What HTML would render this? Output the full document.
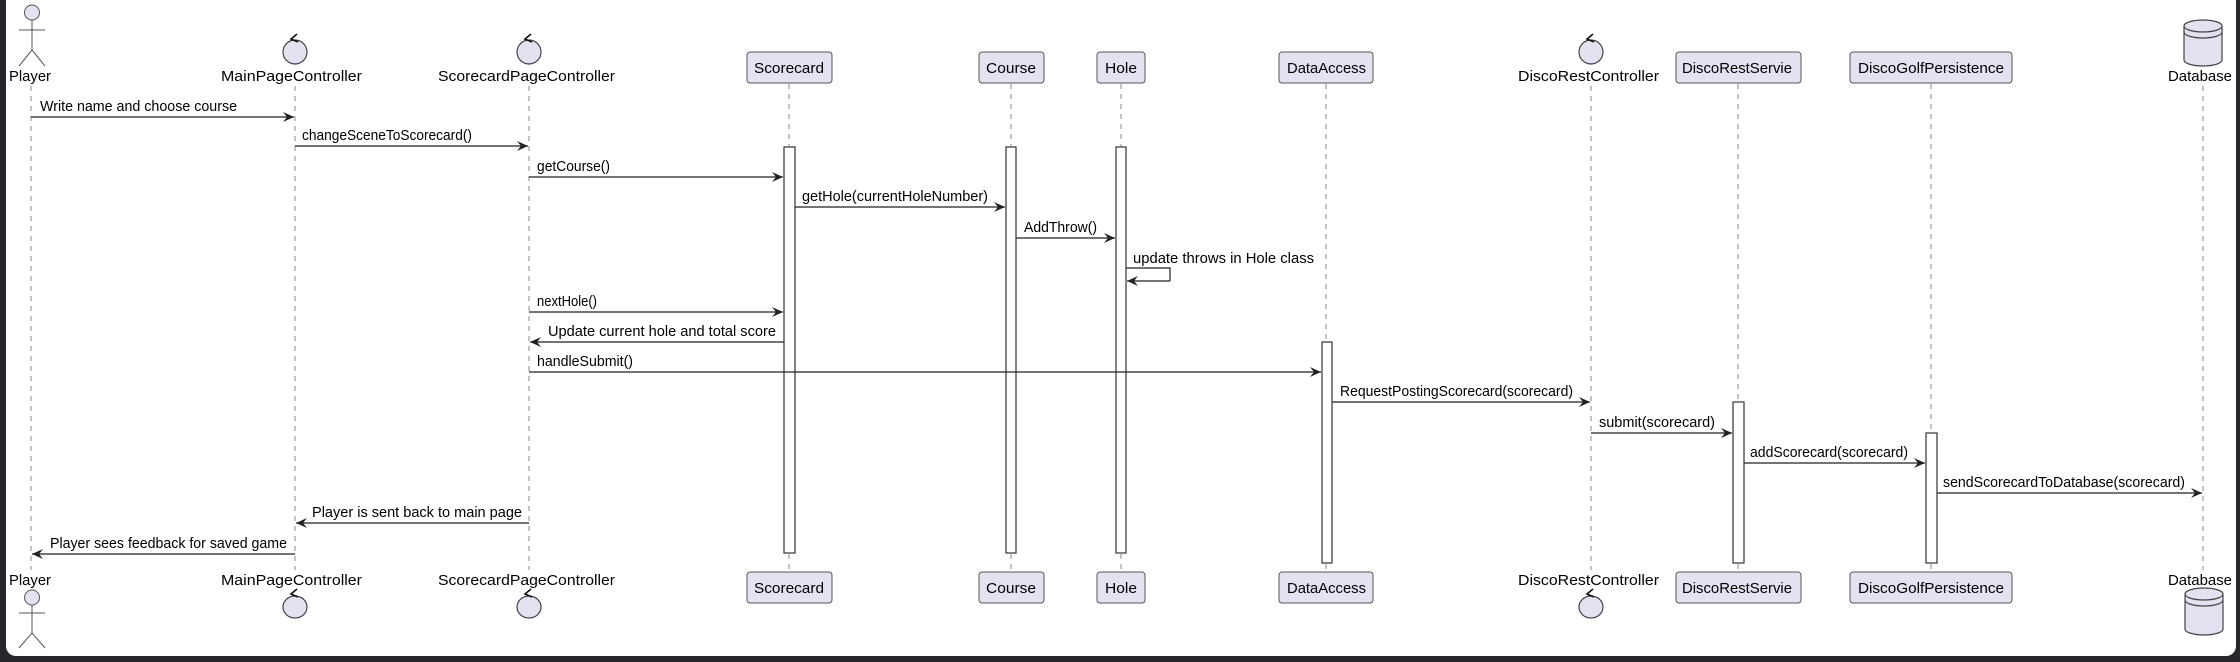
<!DOCTYPE html>
<html><head><meta charset="utf-8"><style>
html,body{margin:0;padding:0;background:#25272b;width:2240px;height:662px;overflow:hidden}
svg{display:block}
text{font-family:"Liberation Sans",Arial,sans-serif;font-size:15px;fill:#000}
.ll{stroke:#888;stroke-width:1;stroke-dasharray:5,5}
.box{fill:#e2e2f0;stroke:#555;stroke-width:1}
.act{fill:#fff;stroke:#333;stroke-width:1.2}
.m{stroke:#222;stroke-width:1.2;fill:none}
.ah{fill:#222}
.sh{fill:#e2e2f0;stroke:#444;stroke-width:1.2}
</style></head><body>
<svg width="2240" height="662" viewBox="0 0 2240 662" xmlns="http://www.w3.org/2000/svg">
<rect x="6" y="-12" width="2230" height="668" rx="10" fill="#fff"/>
<defs>
<marker id="a" markerWidth="12" markerHeight="10" refX="11" refY="5" orient="auto" markerUnits="userSpaceOnUse">
<path d="M0,0 L11,5 L0,10 L4,5 Z" class="ah"/></marker>
</defs>
<g class="ll">
<line x1="31" y1="86" x2="31" y2="570"/>
<line x1="295" y1="86" x2="295" y2="570"/>
<line x1="529" y1="86" x2="529" y2="570"/>
<line x1="789" y1="84" x2="789" y2="571"/>
<line x1="1011" y1="84" x2="1011" y2="571"/>
<line x1="1121" y1="84" x2="1121" y2="571"/>
<line x1="1326" y1="84" x2="1326" y2="571"/>
<line x1="1591" y1="86" x2="1591" y2="570"/>
<line x1="1738" y1="84" x2="1738" y2="571"/>
<line x1="1931" y1="84" x2="1931" y2="571"/>
<line x1="2203" y1="86" x2="2203" y2="570"/>
</g>
<g stroke="#555" stroke-width="1" fill="none">
<circle cx="32" cy="12.5" r="7.5" class="sh" style="stroke:#555;stroke-width:1"/>
<line x1="32" y1="20" x2="32" y2="50"/><line x1="19" y1="30" x2="45" y2="30"/>
<line x1="32" y1="50" x2="19" y2="66"/><line x1="32" y1="50" x2="45" y2="66"/>
<circle cx="32" cy="597.5" r="7.5" class="sh" style="stroke:#555;stroke-width:1"/>
<line x1="32" y1="605" x2="32" y2="633"/><line x1="19" y1="613" x2="45" y2="613"/>
<line x1="32" y1="633" x2="19" y2="648"/><line x1="32" y1="633" x2="45" y2="648"/>
</g>
<text x="9" y="81" textLength="42" lengthAdjust="spacingAndGlyphs">Player</text>
<text x="9" y="585" textLength="42" lengthAdjust="spacingAndGlyphs">Player</text>
<g>
<ellipse cx="295" cy="52" rx="12" ry="12" class="sh"/><path d="M297,34 L291,39 L298,42" fill="none" stroke="#111" stroke-width="1.6"/>
<ellipse cx="529" cy="52" rx="12" ry="12" class="sh"/><path d="M531,34 L525,39 L532,42" fill="none" stroke="#111" stroke-width="1.6"/>
<ellipse cx="1591" cy="52" rx="12" ry="12" class="sh"/><path d="M1593,34 L1587,39 L1594,42" fill="none" stroke="#111" stroke-width="1.6"/>
<ellipse cx="295" cy="607" rx="12" ry="11" class="sh"/><path d="M297,589 L291,594 L298,597" fill="none" stroke="#111" stroke-width="1.6"/>
<ellipse cx="529" cy="607" rx="12" ry="11" class="sh"/><path d="M531,589 L525,594 L532,597" fill="none" stroke="#111" stroke-width="1.6"/>
<ellipse cx="1591" cy="607" rx="12" ry="11" class="sh"/><path d="M1593,589 L1587,594 L1594,597" fill="none" stroke="#111" stroke-width="1.6"/>
</g>
<text x="221" y="81" textLength="141" lengthAdjust="spacingAndGlyphs">MainPageController</text>
<text x="438" y="81" textLength="177" lengthAdjust="spacingAndGlyphs">ScorecardPageController</text>
<text x="1518" y="81" textLength="141" lengthAdjust="spacingAndGlyphs">DiscoRestController</text>
<text x="221" y="585" textLength="141" lengthAdjust="spacingAndGlyphs">MainPageController</text>
<text x="438" y="585" textLength="177" lengthAdjust="spacingAndGlyphs">ScorecardPageController</text>
<text x="1518" y="585" textLength="141" lengthAdjust="spacingAndGlyphs">DiscoRestController</text>
<g>
<path d="M2184,26 L2184,60 A19,6 0 0 0 2222,60 L2222,26" class="sh"/>
<ellipse cx="2203" cy="26" rx="19" ry="6" class="sh"/>
<path d="M2184,32 A19,6 0 0 0 2222,32" fill="none" stroke="#444" stroke-width="1.2"/>
<path d="M2185,594 L2185,629 A19,6 0 0 0 2223,629 L2223,594" class="sh"/>
<ellipse cx="2204" cy="594" rx="19" ry="6" class="sh"/>
<path d="M2185,600 A19,6 0 0 0 2223,600" fill="none" stroke="#444" stroke-width="1.2"/>
</g>
<text x="2168" y="81" textLength="64" lengthAdjust="spacingAndGlyphs">Database</text>
<text x="2168" y="585" textLength="64" lengthAdjust="spacingAndGlyphs">Database</text>
<g>
<rect x="747" y="52" width="85" height="31" rx="3" class="box"/>
<rect x="979" y="52" width="65" height="31" rx="3" class="box"/>
<rect x="1097" y="52" width="48" height="31" rx="3" class="box"/>
<rect x="1279" y="52" width="94" height="31" rx="3" class="box"/>
<rect x="1676" y="52" width="125" height="31" rx="3" class="box"/>
<rect x="1850" y="52" width="162" height="31" rx="3" class="box"/>
<rect x="747" y="572" width="85" height="31" rx="3" class="box"/>
<rect x="979" y="572" width="65" height="31" rx="3" class="box"/>
<rect x="1097" y="572" width="48" height="31" rx="3" class="box"/>
<rect x="1279" y="572" width="94" height="31" rx="3" class="box"/>
<rect x="1676" y="572" width="125" height="31" rx="3" class="box"/>
<rect x="1850" y="572" width="162" height="31" rx="3" class="box"/>
</g>
<text x="754" y="73" textLength="70" lengthAdjust="spacingAndGlyphs">Scorecard</text>
<text x="986" y="73" textLength="50" lengthAdjust="spacingAndGlyphs">Course</text>
<text x="1105" y="73" textLength="32" lengthAdjust="spacingAndGlyphs">Hole</text>
<text x="1287" y="73" textLength="79" lengthAdjust="spacingAndGlyphs">DataAccess</text>
<text x="1682" y="73" textLength="110" lengthAdjust="spacingAndGlyphs">DiscoRestServie</text>
<text x="1858" y="73" textLength="146" lengthAdjust="spacingAndGlyphs">DiscoGolfPersistence</text>
<text x="754" y="593" textLength="70" lengthAdjust="spacingAndGlyphs">Scorecard</text>
<text x="986" y="593" textLength="50" lengthAdjust="spacingAndGlyphs">Course</text>
<text x="1105" y="593" textLength="32" lengthAdjust="spacingAndGlyphs">Hole</text>
<text x="1287" y="593" textLength="79" lengthAdjust="spacingAndGlyphs">DataAccess</text>
<text x="1682" y="593" textLength="110" lengthAdjust="spacingAndGlyphs">DiscoRestServie</text>
<text x="1858" y="593" textLength="146" lengthAdjust="spacingAndGlyphs">DiscoGolfPersistence</text>
<rect x="784" y="147" width="11" height="406" class="act"/>
<rect x="1006" y="147" width="10" height="406" class="act"/>
<rect x="1116" y="147" width="10" height="406" class="act"/>
<rect x="1322" y="342" width="10" height="221" class="act"/>
<rect x="1733" y="402" width="11" height="161" class="act"/>
<rect x="1926" y="433" width="11" height="130" class="act"/>
<g class="m">
<line x1="31" y1="117" x2="294" y2="117" marker-end="url(#a)"/>
<line x1="295" y1="146" x2="528" y2="146" marker-end="url(#a)"/>
<line x1="529" y1="177" x2="783" y2="177" marker-end="url(#a)"/>
<line x1="795" y1="207" x2="1005" y2="207" marker-end="url(#a)"/>
<line x1="1016" y1="238" x2="1115" y2="238" marker-end="url(#a)"/>
<polyline points="1126,268 1170,268 1170,281" />
<line x1="1170" y1="281" x2="1127" y2="281" marker-end="url(#a)"/>
<line x1="529" y1="312" x2="783" y2="312" marker-end="url(#a)"/>
<line x1="784" y1="342" x2="530" y2="342" marker-end="url(#a)"/>
<line x1="529" y1="372" x2="1321" y2="372" marker-end="url(#a)"/>
<line x1="1332" y1="402" x2="1590" y2="402" marker-end="url(#a)"/>
<line x1="1591" y1="433" x2="1732" y2="433" marker-end="url(#a)"/>
<line x1="1744" y1="463" x2="1925" y2="463" marker-end="url(#a)"/>
<line x1="1937" y1="493" x2="2202" y2="493" marker-end="url(#a)"/>
<line x1="529" y1="523" x2="296" y2="523" marker-end="url(#a)"/>
<line x1="295" y1="554" x2="32" y2="554" marker-end="url(#a)"/>
</g>
<g>
<text x="40" y="111" textLength="197" lengthAdjust="spacingAndGlyphs">Write name and choose course</text>
<text x="302" y="140" textLength="170" lengthAdjust="spacingAndGlyphs">changeSceneToScorecard()</text>
<text x="537" y="171" textLength="73" lengthAdjust="spacingAndGlyphs">getCourse()</text>
<text x="802" y="201" textLength="186" lengthAdjust="spacingAndGlyphs">getHole(currentHoleNumber)</text>
<text x="1024" y="232" textLength="73" lengthAdjust="spacingAndGlyphs">AddThrow()</text>
<text x="1133" y="263" textLength="181" lengthAdjust="spacingAndGlyphs">update throws in Hole class</text>
<text x="537" y="306" textLength="60" lengthAdjust="spacingAndGlyphs">nextHole()</text>
<text x="548" y="336" textLength="228" lengthAdjust="spacingAndGlyphs">Update current hole and total score</text>
<text x="537" y="366" textLength="96" lengthAdjust="spacingAndGlyphs">handleSubmit()</text>
<text x="1340" y="396" textLength="233" lengthAdjust="spacingAndGlyphs">RequestPostingScorecard(scorecard)</text>
<text x="1599" y="427" textLength="116" lengthAdjust="spacingAndGlyphs">submit(scorecard)</text>
<text x="1750" y="457" textLength="158" lengthAdjust="spacingAndGlyphs">addScorecard(scorecard)</text>
<text x="1943" y="487" textLength="242" lengthAdjust="spacingAndGlyphs">sendScorecardToDatabase(scorecard)</text>
<text x="312" y="517" textLength="210" lengthAdjust="spacingAndGlyphs">Player is sent back to main page</text>
<text x="50" y="548" textLength="237" lengthAdjust="spacingAndGlyphs">Player sees feedback for saved game</text>
</g>
</svg>
</body></html>
